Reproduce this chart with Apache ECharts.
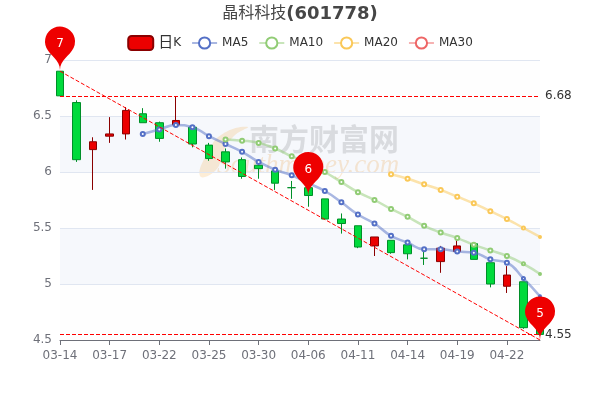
<!DOCTYPE html>
<html>
<head>
<meta charset="utf-8">
<style>html,body{margin:0;padding:0;background:#fff}#c{width:600px;height:400px}</style>
<script src="https://cdn.jsdelivr.net/npm/echarts@6/dist/echarts.min.js"></script>
</head>
<body>
<div id="c"></div>
<script>
const dates = ['03-14','03-15','03-16','03-17','03-18','03-21','03-22','03-23','03-24','03-25','03-28','03-29','03-30','03-31','04-01','04-06','04-07','04-08','04-11','04-12','04-13','04-14','04-15','04-18','04-19','04-20','04-21','04-22','04-25','04-26'];
const opens  = [6.90,6.62,6.20,6.32,6.34,6.52,6.44,6.42,6.40,6.24,6.18,6.11,6.06,6.01,5.86,5.86,5.76,5.58,5.52,5.34,5.39,5.35,5.23,5.20,5.29,5.36,5.19,4.98,5.02,4.77];
const closes = [6.68,6.11,6.27,6.34,6.55,6.44,6.30,6.46,6.25,6.12,6.09,5.96,6.03,5.90,5.86,5.79,5.58,5.54,5.33,5.42,5.28,5.27,5.23,5.32,5.34,5.22,5.00,5.08,4.61,4.55];
const lows   = [6.68,6.09,5.84,6.26,6.29,6.44,6.27,6.42,6.22,6.10,6.03,5.94,5.94,5.84,5.76,5.69,5.58,5.45,5.32,5.25,5.27,5.22,5.17,5.10,5.29,5.22,4.97,4.92,4.60,4.55];
const highs  = [6.90,6.64,6.31,6.49,6.58,6.57,6.45,6.67,6.41,6.26,6.21,6.13,6.07,6.01,5.92,5.90,5.76,5.63,5.52,5.42,5.39,5.37,5.31,5.34,5.39,5.36,5.19,5.16,5.02,4.80];
const ma5  = ['-','-','-','-','-',6.34,6.38,6.42,6.40,6.32,6.25,6.18,6.09,6.02,5.97,5.90,5.83,5.73,5.62,5.54,5.43,5.37,5.31,5.31,5.29,5.28,5.22,5.19,5.05,4.89];
const ma10 = ['-','-','-','-','-','-','-','-','-','-',6.29,6.28,6.26,6.21,6.14,6.08,6.00,5.91,5.82,5.75,5.67,5.60,5.52,5.46,5.41,5.35,5.30,5.25,5.18,5.09];
const ma20 = ['-','-','-','-','-','-','-','-','-','-','-','-','-','-','-','-','-','-','-','-',5.98,5.94,5.89,5.84,5.78,5.72,5.65,5.58,5.50,5.42];
const ma30 = dates.map(() => '-');
const yTicks = {min: 4.5, max: 7, interval: 0.5};
const titleName = '晶科科技';
const titleCode = '(601778)';
const pins = [{label: 7, date: '03-14', price: 6.91},{label: 6, date: '04-06', price: 5.79},{label: 5, date: '04-26', price: 4.50}];
const levels = [6.68, 4.55];
const trend = [{date: '03-14', price: 6.90},{date: '04-26', price: 4.50}];

const font = 'DejaVu Sans, Noto Sans CJK SC, sans-serif';
const ohlc = dates.map((_, i) => [opens[i], closes[i], lows[i], highs[i]]);
const endSizes = {28: 3, 29: 2};
const mk = (name, data, color) => ({
  name, type: 'line', smooth: true, showSymbol: true, symbol: 'emptyCircle', symbolSize: 4,
  data: data.map((v, i) => (endSizes[i] && v !== '-') ? {value: v, symbolSize: endSizes[i]} : v),
  lineStyle: {width: 2.5, opacity: 0.5, color}, itemStyle: {color, borderWidth: 2}, animation: false, z: 3
});
const chart = echarts.init(document.getElementById('c'), null, {renderer: 'canvas'});
chart.setOption({
  animation: false,
  textStyle: {fontFamily: font},
  title: {text: '{a|' + titleName + '}{b|' + titleCode + '}', left: 'center', top: 2, padding: [3,5,5,5],
    textStyle: {rich: {
      a: {fontFamily: font, fontSize: 16, fontWeight: 'normal', color: '#464646'},
      b: {fontFamily: font, fontSize: 18, fontWeight: 'bold', color: '#464646'}}}},
  legend: {top: 30, left: 'center', itemGap: 10, itemWidth: 25, itemHeight: 14,
    textStyle: {color: '#333', fontSize: 12, fontFamily: font,
      rich: {big: {fontSize: 15, color: '#333', fontFamily: font}, sm: {fontSize: 12, color: '#333', fontFamily: font}}},
    formatter: n => n === '日K' ? '{big|日}{sm|K}' : n,
    data: ['日K','MA5','MA10','MA20','MA30']},
  grid: {left: 60, right: 60, top: 60, bottom: 60, containLabel: false},
  xAxis: {type: 'category', data: dates, boundaryGap: false,
    axisLine: {show: true, onZero: false, lineStyle: {color: '#6E7079'}},
    axisTick: {show: true, alignWithLabel: true, interval: 2, lineStyle: {color: '#6E7079'}},
    axisLabel: {color: '#6E7079', fontSize: 12, interval: 2, margin: 10, hideOverlap: false, alignMinLabel: 'center'},
    splitLine: {show: false}},
  yAxis: {type: 'value', scale: true, min: yTicks.min, max: yTicks.max, interval: yTicks.interval,
    axisLine: {show: false}, axisTick: {show: false},
    axisLabel: {color: '#6E7079', fontSize: 12, margin: 8, formatter: v => String(v), verticalAlignMinLabel: 'middle', verticalAlignMaxLabel: 'middle'},
    splitLine: {show: true, lineStyle: {color: '#E0E6F1'}},
    splitArea: {show: true, areaStyle: {color: ['rgba(250,250,250,0.2)','rgba(210,219,238,0.2)']}}},
  graphic: [
    {type: 'polygon', z: 0, silent: true, shape: {smooth: 0.5, points: [[248,127],[224,133],[208,152],[200,176],[216,170],[223,152],[234,136]]},
      style: {fill: 'rgba(250,200,130,0.4)'}},
    {type: 'text', z: 0, silent: true, left: 249, top: 124, style: {text: '南方财富网', font: 'bold 30px "Noto Sans CJK SC"', fill: 'rgba(170,170,170,0.42)'}},
    {type: 'text', z: 0, silent: true, left: 217, top: 152, style: {text: 'Southmoney.com', font: 'italic 27px "Liberation Serif"', fill: 'rgba(245,190,120,0.4)'}}
  ],
  series: [
    {name: '日K', type: 'candlestick', data: ohlc, barWidth: 8, z: 2,
      itemStyle: {color: '#ec0000', color0: '#00da3c', borderColor: '#8A0000', borderColor0: '#008F28', borderWidth: 1},
      markPoint: {silent: true, z: 6, symbol: 'pin', symbolSize: 50,
        itemStyle: {color: '#ee0000'},
        label: {color: '#fff', fontSize: 12, fontFamily: font},
        data: pins.map(p => ({name: String(p.label), value: p.label, coord: [p.date, p.price]}))},
      markLine: {silent: true, symbol: 'none', z: 5, precision: 2,
        lineStyle: {color: '#f00', type: 'dashed', width: 1},
        label: {position: 'end', color: '#333', fontSize: 12, fontFamily: font, formatter: p => Number(p.value).toFixed(2)},
        data: levels.map(v => ({yAxis: v})).concat([[
          {coord: [trend[0].date, trend[0].price], label: {show: false}},
          {coord: [trend[1].date, trend[1].price], label: {show: false}}
        ]])}},
    mk('MA5', ma5, '#5470c6'),
    mk('MA10', ma10, '#91cc75'),
    mk('MA20', ma20, '#fac858'),
    mk('MA30', ma30, '#ee6666')
  ]
});
</script>
</body>
</html>
